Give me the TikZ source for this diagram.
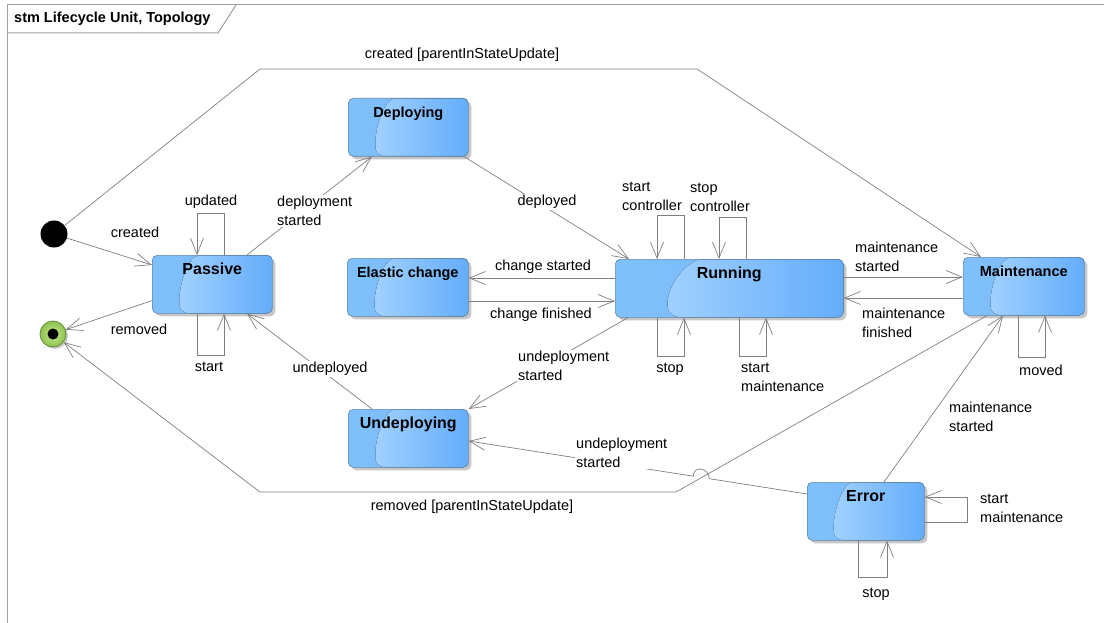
\documentclass[tikz,border=0pt]{standalone}
\usepackage{fontspec}
\setmainfont{Liberation Sans}
\usetikzlibrary{arrows.meta,calc,shadows}
\definecolor{edgegray}{RGB}{128,128,128}
\definecolor{framegray}{RGB}{160,160,160}
\definecolor{stborder}{RGB}{95,135,175}
\definecolor{baseL}{RGB}{128,192,250}
\definecolor{baseR}{RGB}{118,184,250}
\definecolor{glossL}{RGB}{162,210,255}
\definecolor{glossR}{RGB}{100,172,250}
\definecolor{finL}{RGB}{200,230,140}
\definecolor{finR}{RGB}{140,195,80}
\definecolor{finB}{RGB}{100,140,60}
\tikzset{
  stbox/.style={draw=stborder, line width=0.6pt, rounded corners=5pt, inner sep=0pt,
    anchor=north west, minimum width=120pt, text height=19.5pt, text depth=38.5pt,
    left color=baseL, right color=baseR,
    drop shadow={shadow xshift=3pt, shadow yshift=-3pt, opacity=0.22, fill=black},
    font=\bfseries\fontsize{14.5}{17}\selectfont,
    path picture={
      \begin{scope}[x=1pt,y=1pt]
      \fill[left color=glossL, right color=glossR]
        let \p1=(path picture bounding box.north west), \p2=(path picture bounding box.south east) in
        ({\x1+0.36*(\x2-\x1)},{\y1}) .. controls ({\x1+0.24*(\x2-\x1)},{\y1+0.3*(\y2-\y1)})
        and ({\x1+0.20*(\x2-\x1)},{\y1+0.85*(\y2-\y1)}) .. ({\x1+0.27*(\x2-\x1)},{\y2})
        -- ({\x2},{\y2}) -- ({\x2},{\y1}) -- cycle;
      \end{scope}
    }},
  bigtitle/.style={font=\bfseries\fontsize{16}{19}\selectfont},
  tr/.style={draw=edgegray, line width=0.7pt, -{Straight Barb[length=16pt,width=13pt]}},
  lbl/.style={fill=white, inner sep=1pt, font=\fontsize{14.5}{19}\selectfont, align=left},
  framel/.style={draw=framegray, line width=1pt}
}
\begin{document}
\begin{tikzpicture}[x=1pt,y=-1pt]
\useasboundingbox (0,0) rectangle (1104,623);
\fill[white] (0,0) rectangle (1104,623);

% frame
\draw[framel] (7,623) -- (7,5) -- (1104,5);
\draw[framel] (7,33) -- (218,33) -- (236,5);
\node[font=\bfseries\fontsize{14.5}{17}\selectfont, anchor=west, inner sep=0pt] (title) at (14,19) {stm Lifecycle Unit, Topology};

% pseudo states
\node[circle, fill=black, minimum size=27pt, inner sep=0pt] (init) at (54,234) {};
\node[circle, draw=finB, line width=0.8pt, inner color=finL, outer color=finR, minimum size=26pt, inner sep=0pt,
  drop shadow={shadow xshift=2pt, shadow yshift=-2pt, opacity=0.2, fill=black},
  path picture={\fill[black] (path picture bounding box.center) circle (5.5pt);}] (final) at (53,334) {};

% states
\node[stbox, bigtitle] (passive) at (152,255) {Passive};
\node[stbox] (deploying) at (348,98) {Deploying};
\node[stbox, minimum width=121pt] (elastic) at (347,258) {Elastic change};
\node[stbox, bigtitle, minimum width=228pt] (running) at (615,259) {Running};
\node[stbox, minimum width=121pt] (maint) at (963,257) {Maintenance};
\node[stbox, bigtitle] (undeploy) at (348,409) {Undeploying};
\node[stbox, bigtitle, minimum width=117pt] (error) at (807,482) {Error};

% bend points
\coordinate (c1) at (260,69);
\coordinate (c2) at (697,69);
\coordinate (c3) at (676,492);
\coordinate (c4) at (260,492);

% transitions
\draw[tr] (init) -- ($(passive.north west)+(0,10)$);
\draw[tr] (init) -- (c1) -- (c2) -- ($(maint.north west)+(18,0)$);
\draw[tr] ($(passive.south west)+(0,-13)$) -- (final);
\draw[tr] ($(maint.south west)+(24,0)$) -- (c3) -- (c4) -- (final);

\draw[tr] ($(passive.north west)+(72,0)$) |- ($(passive.north west)+(45,-42)$) -- ($(passive.north west)+(45,0)$);
\draw[tr] ($(passive.south west)+(45,0)$) |- ($(passive.south west)+(72,42)$) -- ($(passive.south west)+(72,0)$);

\draw[tr] ($(passive.north west)+(95,0)$) -- ($(deploying.south west)+(24,0)$);
\draw[tr] ($(deploying.south west)+(116,0)$) -- ($(running.north west)+(14,0)$);
\draw[tr] ($(running.north west)+(0,19)$) -- ($(elastic.north east)+(0,20)$);
\draw[tr] ($(elastic.north east)+(0,43)$) -- ($(running.north west)+(0,42)$);
\draw[tr] ($(running.south west)+(13,0)$) -- (undeploy.north east);
\draw[tr] ($(undeploy.north west)+(24,0)$) -- ($(passive.south west)+(95,0)$);

\draw[tr] ($(running.north west)+(69,0)$) |- ($(running.north west)+(42,-44)$) -- ($(running.north west)+(42,0)$);
\draw[tr] ($(running.north west)+(131,0)$) |- ($(running.north west)+(104,-42)$) -- ($(running.north west)+(104,0)$);
\draw[tr] ($(running.south west)+(42,0)$) |- ($(running.south west)+(69,39)$) -- ($(running.south west)+(69,0)$);
\draw[tr] ($(running.south west)+(124,0)$) |- ($(running.south west)+(151,39)$) -- ($(running.south west)+(151,0)$);

\draw[tr] ($(running.north east)+(0,18)$) -- ($(maint.north west)+(0,20)$);
\draw[tr] ($(maint.north west)+(0,41)$) -- ($(running.north east)+(0,39)$);
\draw[tr] ($(maint.south west)+(55,0)$) |- ($(maint.south west)+(82,42)$) -- ($(maint.south west)+(82,0)$);

\draw[tr] ($(error.north west)+(77,0)$) -- ($(maint.south west)+(40,0)$);
\coordinate (eA) at ($(error.north west)+(0,12)$);
\coordinate (uA) at ($(undeploy.north east)+(0,32)$);
\draw[tr] (eA) -- ($(eA)!0.289!(uA)$) .. controls +(0,-11) and +(0,-11) .. ($(eA)!0.336!(uA)$) -- (uA);
\draw[tr] ($(error.north east)+(0,40)$) -| ($(error.north east)+(43,15)$) -- ($(error.north east)+(0,15)$);
\draw[tr] ($(error.south west)+(51,0)$) |- ($(error.south west)+(80,37)$) -- ($(error.south west)+(80,0)$);

% labels
\node[lbl] (l1) at (462,55) {created [parentInStateUpdate]};
\node[lbl] (l2) at (135,232) {created};
\node[lbl] (l3) at (139,329) {removed};
\node[lbl] (l4) at (472,507) {removed [parentInStateUpdate]};
\node[lbl] (l5) at (211,202) {updated};
\node[lbl] (l6) at (209,367) {start};
\node[lbl, anchor=west] (l7) at (276,211) {deployment\\started};
\node[lbl] (l8) at (547,202) {deployed};
\node[lbl] (l9) at (543,267) {change started};
\node[lbl] (l10) at (541,315) {change finished};
\node[lbl, anchor=west] (l11) at (517,366) {undeployment\\started};
\node[lbl] (l12) at (330,369) {undeployed};
\node[lbl, anchor=west] (l13) at (621,196) {start\\controller};
\node[lbl, anchor=west] (l14) at (689,197) {stop\\controller};
\node[lbl] (l15) at (670,369) {stop};
\node[lbl, anchor=west] (l16) at (740,377) {start\\maintenance};
\node[lbl, anchor=west] (l17) at (854,257) {maintenance\\started};
\node[lbl, anchor=west] (l18) at (861,323) {maintenance\\finished};
\node[lbl] (l19) at (1041,370) {moved};
\node[lbl, anchor=west] (l20) at (948,417) {maintenance\\started};
\node[lbl, anchor=west] (l21) at (575,453) {undeployment\\started};
\node[lbl, anchor=west] (l22) at (979,508) {start\\maintenance};
\node[lbl] (l23) at (876,594) {stop};
\end{tikzpicture}
\end{document}
